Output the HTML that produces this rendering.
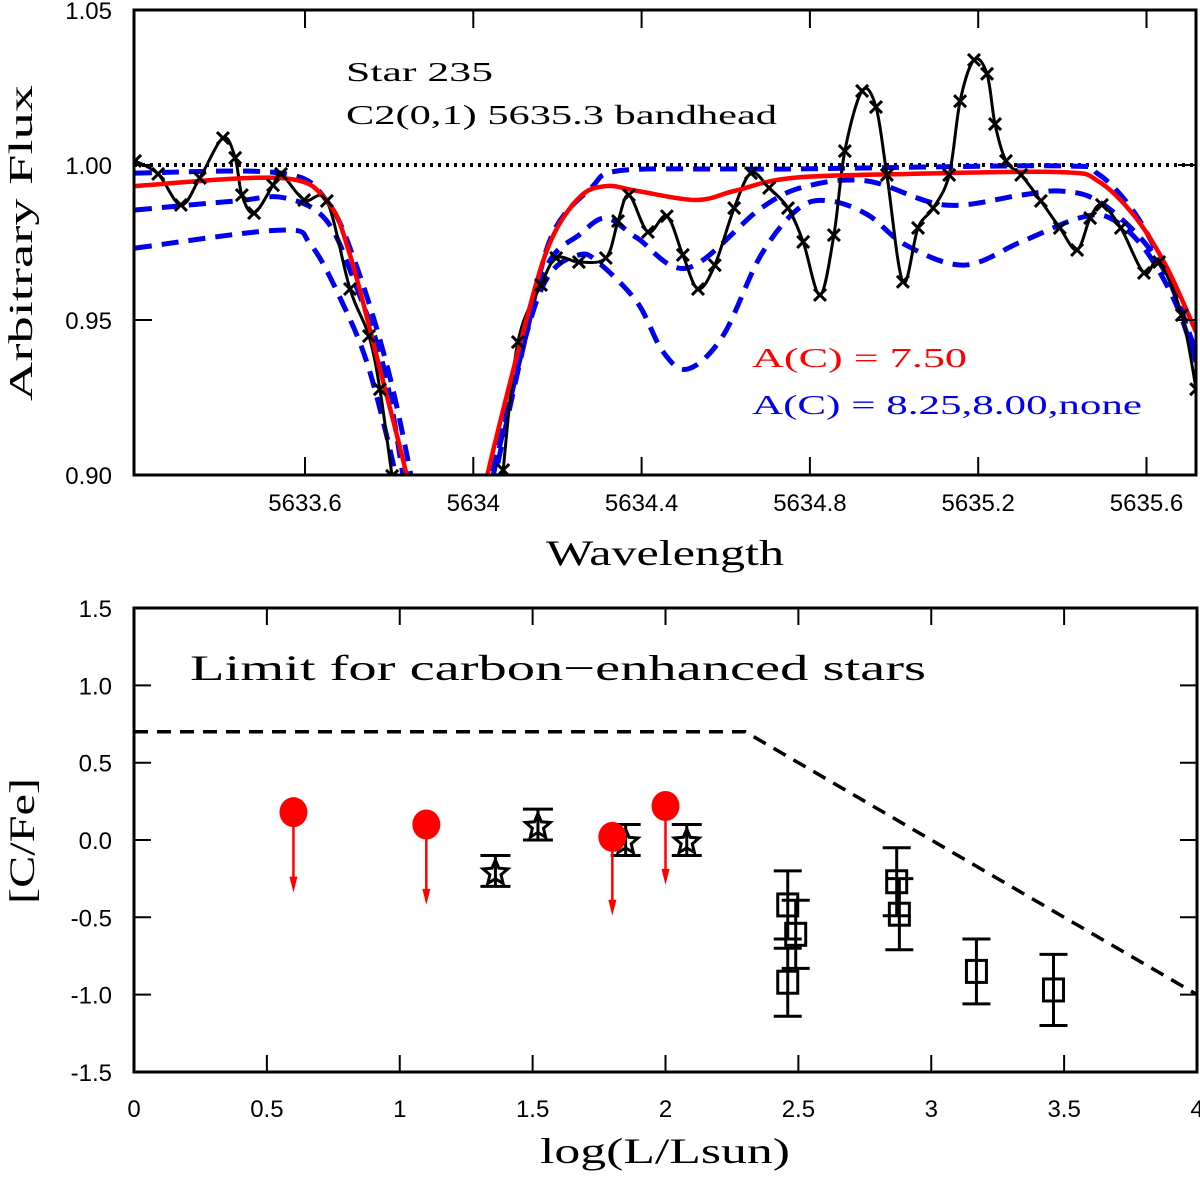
<!DOCTYPE html>
<html><head><meta charset="utf-8"><style>
html,body{margin:0;padding:0;background:#fff;}
svg{display:block;}
text{font-family:"Liberation Sans",sans-serif;}
.serif{font-family:"Liberation Serif",serif;}
</style></head><body>
<svg id="fig" width="1200" height="1181" viewBox="0 0 1200 1181" xmlns="http://www.w3.org/2000/svg">
<defs>
<clipPath id="clipTop"><rect x="134" y="10" width="1062" height="465"/></clipPath>
<clipPath id="clipBot"><rect x="134" y="608" width="1063" height="464"/></clipPath>
</defs>
<g id="topPanel"></g>
<g id="botPanel"></g>
</svg>
<script>
// ---------- Top panel data ----------
const topXTicks = [5633.6, 5634.0, 5634.4, 5634.8, 5635.2, 5635.6];
const topXTickLabels = ["5633.6", "5634", "5634.4", "5634.8", "5635.2", "5635.6"];
const topYTicks = [0.90, 0.95, 1.00, 1.05];
const topYTickLabels = ["0.90", "0.95", "1.00", "1.05"];
const obsWl = [5633.196,5633.251,5633.305,5633.350,5633.405,5633.434,5633.450,5633.479,5633.524,5633.543,5633.598,5633.652,5633.707,5633.752,5633.778,5633.807,5633.83,5634.06,5634.071,5634.106,5634.161,5634.197,5634.251,5634.315,5634.344,5634.370,5634.415,5634.460,5634.498,5634.534,5634.574,5634.620,5634.660,5634.703,5634.748,5634.784,5634.824,5634.857,5634.883,5634.924,5634.957,5634.983,5635.021,5635.057,5635.093,5635.131,5635.157,5635.190,5635.221,5635.240,5635.266,5635.302,5635.349,5635.394,5635.435,5635.466,5635.494,5635.539,5635.594,5635.630,5635.684,5635.718];
const obsFlux = [1.0013,0.9971,0.9871,0.9958,1.0087,1.0023,0.9903,0.9845,0.9935,0.9971,0.9887,0.9884,0.9600,0.9448,0.9277,0.8997,0.88,0.88,0.9016,0.9429,0.9613,0.9700,0.9687,0.9700,0.9819,0.9903,0.9784,0.9835,0.9710,0.9600,0.9677,0.9861,0.9974,0.9926,0.9861,0.9752,0.9581,0.9774,1.0045,1.0239,1.0187,0.9968,0.9623,0.9797,0.9861,0.9968,1.0206,1.0339,1.0294,1.0132,1.0013,0.9968,0.9884,0.9797,0.9726,0.9829,0.9871,0.9797,0.9652,0.9687,0.9516,0.9277];
const redWl = [5633.196,5633.543,5633.652,5633.707,5633.778,5633.842,5633.85,5634.025,5634.033,5634.116,5634.180,5634.251,5634.315,5634.391,5634.529,5634.620,5634.757,5635.031,5635.394,5635.485,5635.575,5635.649,5635.718];
const redFlux = [0.9932,0.9958,0.9884,0.9710,0.9342,0.8997,0.89,0.89,0.8997,0.9448,0.9742,0.9894,0.9932,0.9916,0.9887,0.9916,0.9958,0.9971,0.9977,0.9948,0.9829,0.9668,0.9461];
const blueNoneWl = [5633.196,5633.543,5633.652,5633.724,5633.797,5633.852,5633.86,5634.04,5634.052,5634.125,5634.187,5634.280,5634.344,5634.586,5634.757,5635.394,5635.485,5635.575,5635.649,5635.718];
const blueNoneFlux = [0.9974,0.9974,0.9884,0.9668,0.9342,0.8997,0.89,0.89,0.8997,0.9448,0.9774,0.9926,0.9981,0.9987,0.9987,0.9997,0.9971,0.9839,0.9645,0.9397];
const blue800Wl = [5633.196,5633.434,5633.552,5633.652,5633.724,5633.788,5633.833,5633.84,5634.03,5634.042,5634.116,5634.180,5634.251,5634.315,5634.389,5634.510,5634.684,5634.793,5634.938,5635.121,5635.302,5635.394,5635.485,5635.594,5635.668,5635.718];
const blue800Flux = [0.9855,0.9884,0.9894,0.9819,0.9600,0.9342,0.8997,0.89,0.89,0.8997,0.9448,0.9687,0.9774,0.9829,0.9765,0.9668,0.9861,0.9932,0.9948,0.9871,0.9903,0.9916,0.9884,0.9752,0.9590,0.9365];
const blue825Wl = [5633.196,5633.543,5633.614,5633.688,5633.752,5633.816,5633.82,5634.035,5634.047,5634.125,5634.180,5634.251,5634.296,5634.389,5634.451,5634.510,5634.593,5634.684,5634.774,5634.848,5634.938,5635.028,5635.166,5635.302,5635.440,5635.513,5635.594,5635.668,5635.718];
const blue825Flux = [0.9732,0.9790,0.9742,0.9558,0.9342,0.8997,0.89,0.89,0.8997,0.9448,0.9645,0.9710,0.9687,0.9558,0.9397,0.9342,0.9448,0.9710,0.9861,0.9884,0.9839,0.9742,0.9677,0.9752,0.9829,0.9829,0.9732,0.9558,0.9365];

// ---------- Bottom panel data ----------
const botXTicks = [0,0.5,1,1.5,2,2.5,3,3.5,4];
const botXTickLabels = ["0","0.5","1","1.5","2","2.5","3","3.5","4"];
const botYTicks = [1.5,1.0,0.5,0.0,-0.5,-1.0,-1.5];
const botYTickLabels = ["1.5","1.0","0.5","0.0","-0.5","-1.0","-1.5"];
const limitX = [0, 2.3, 4];
const limitY = [0.70, 0.70, -1.0];
const ulX = [0.6, 1.1, 1.8, 2.0];
const ulY = [0.18, 0.10, 0.02, 0.22];
const ulTo = [-0.34, -0.42, -0.49, -0.29];
const starX = [1.36, 1.52, 1.85, 2.08];
const starY = [-0.20, 0.10, 0.00, 0.00];
const starErr = [0.10, 0.10, 0.10, 0.10];
const sqX = [2.46, 2.49, 2.46, 2.87, 2.88, 3.17, 3.46];
const sqY = [-0.42, -0.61, -0.92, -0.27, -0.48, -0.85, -0.97];
const sqErr = [0.22, 0.22, 0.22, 0.22, 0.23, 0.21, 0.23];

const NS = "http://www.w3.org/2000/svg";
function mk(parent, tag, attrs, txt) {
  const e = document.createElementNS(NS, tag);
  for (const k in attrs) e.setAttribute(k, attrs[k]);
  if (txt !== undefined) e.textContent = txt;
  parent.appendChild(e);
  return e;
}
function smoothPath(pts) {
  let d = "M" + pts[0][0].toFixed(1) + "," + pts[0][1].toFixed(1);
  for (let i = 0; i < pts.length - 1; i++) {
    const p0 = pts[i - 1] || pts[i], p1 = pts[i], p2 = pts[i + 1], p3 = pts[i + 2] || p2;
    const c1x = p1[0] + (p2[0] - p0[0]) / 6, c1y = p1[1] + (p2[1] - p0[1]) / 6;
    const c2x = p2[0] - (p3[0] - p1[0]) / 6, c2y = p2[1] - (p3[1] - p1[1]) / 6;
    d += "C" + c1x.toFixed(1) + "," + c1y.toFixed(1) + " " + c2x.toFixed(1) + "," + c2y.toFixed(1) + " " + p2[0].toFixed(1) + "," + p2[1].toFixed(1);
  }
  return d;
}

// ---------- Top panel ----------
const T = { l: 134, r: 1196, t: 10, b: 475 };
const tx = w => 305 + (w - 5633.6) * 420.75;
const ty = f => 10 + (1.05 - f) * 3100;
const topG = document.getElementById("topPanel");
const topPlot = mk(topG, "g", { "clip-path": "url(#clipTop)" });



const cont = mk(topPlot, "line", { x1: T.l, x2: T.r, y1: ty(1.0), y2: ty(1.0), stroke: "#000", "stroke-width": 4, "stroke-dasharray": "3,5" });



function drawSeries(wl, fl, color, width, dash, name) {
  const pts = wl.map((w, i) => [tx(w), ty(fl[i])]);
  const attrs = { d: smoothPath(pts), fill: "none", stroke: color, "stroke-width": width, "stroke-linejoin": "round" };
  if (dash) attrs["stroke-dasharray"] = dash;
  const p = mk(topPlot, "path", attrs);
  
  
  return pts;
}
drawSeries(blue825Wl, blue825Flux, "#0000ee", 5, "17,10", "synthetic-ac-8.25");
drawSeries(blue800Wl, blue800Flux, "#0000ee", 5, "17,10", "synthetic-ac-8.00");
drawSeries(blueNoneWl, blueNoneFlux, "#0000ee", 5, "17,10", "synthetic-no-carbon");
const obsPts = drawSeries(obsWl, obsFlux, "#000", 3, null, "observed-spectrum");
drawSeries(redWl, redFlux, "#ff0000", 4.5, null, "synthetic-ac-7.50");
const mg = mk(topPlot, "g", {});


obsPts.forEach(p => {
  const s = 6;
  const m = mk(mg, "path", { d: `M${p[0]-s},${p[1]-s}L${p[0]+s},${p[1]+s}M${p[0]-s},${p[1]+s}L${p[0]+s},${p[1]-s}`, stroke: "#000", "stroke-width": 3 });
  
  
});

const tframe = mk(topG, "rect", { x: T.l, y: T.t, width: T.r - T.l, height: T.b - T.t, fill: "none", stroke: "#000", "stroke-width": 3 });


topXTicks.forEach((v, i) => {
  const x = tx(v);
  const tk = mk(topG, "path", { d: `M${x},${T.t}v18M${x},${T.b}v-18`, stroke: "#000", "stroke-width": 2 });
  
  
  const lb = mk(topG, "text", { x: x, y: 511, "text-anchor": "middle", "font-size": 24 }, topXTickLabels[i]);
  
  
});
topYTicks.forEach((v, i) => {
  const y = ty(v);
  const tk = mk(topG, "path", { d: `M${T.l},${y}h18M${T.r},${y}h-18`, stroke: "#000", "stroke-width": 2 });
  
  
  const lb = mk(topG, "text", { x: 112, y: y + 9, "text-anchor": "end", "font-size": 24 }, topYTickLabels[i]);
  
  
});
let el;
el = mk(topG, "text", { x: 665, y: 565, "text-anchor": "middle", "font-size": 36, class: "serif", textLength: 238, lengthAdjust: "spacingAndGlyphs" }, "Wavelength");


el = mk(topG, "text", { x: 0, y: 0, "text-anchor": "middle", "font-size": 34, class: "serif", textLength: 316, lengthAdjust: "spacingAndGlyphs", transform: "translate(32,243) rotate(-90)" }, "Arbitrary Flux");


el = mk(topG, "text", { x: 346, y: 81, "font-size": 27, class: "serif", textLength: 147, lengthAdjust: "spacingAndGlyphs" }, "Star 235");


el = mk(topG, "text", { x: 346, y: 124, "font-size": 27, class: "serif", textLength: 431, lengthAdjust: "spacingAndGlyphs" }, "C2(0,1) 5635.3 bandhead");


el = mk(topG, "text", { x: 752, y: 367, "font-size": 27, fill: "#ff0000", class: "serif", textLength: 215, lengthAdjust: "spacingAndGlyphs" }, "A(C) = 7.50");


el = mk(topG, "text", { x: 752, y: 414, "font-size": 27, fill: "#0000ee", class: "serif", textLength: 390, lengthAdjust: "spacingAndGlyphs" }, "A(C) = 8.25,8.00,none");



// ---------- Bottom panel ----------
const B = { l: 134, r: 1197, t: 608, b: 1072 };
const bx = v => 134 + v * 265.75;
const by = v => 840 - v * 154.6;
const botG = document.getElementById("botPanel");
const botPlot = mk(botG, "g", { "clip-path": "url(#clipBot)" });



el = mk(botPlot, "polyline", { points: limitX.map((v, i) => bx(v) + "," + by(limitY[i])).join(" "), fill: "none", stroke: "#000", "stroke-width": 3.5, "stroke-dasharray": "14,9" });



function starPath(cx, cy, R) {
  let d = "";
  for (let k = 0; k < 10; k++) {
    const r = k % 2 ? R * 0.45 : R;
    const a = -Math.PI / 2 + k * Math.PI / 5;
    d += (k ? "L" : "M") + (cx + r * Math.cos(a)).toFixed(1) + "," + (cy + r * Math.sin(a)).toFixed(1);
  }
  return d + "Z";
}
function errBar(x, y, e, cap) {
  const y1 = by(y + e), y2 = by(y - e);
  const g = mk(botPlot, "path", { d: `M${x},${y1}V${y2}M${x-cap},${y1}h${2*cap}M${x-cap},${y2}h${2*cap}`, stroke: "#000", "stroke-width": 3, fill: "none" });
  
  
}
sqX.forEach((v, i) => {
  const x = bx(v), y = by(sqY[i]);
  errBar(x, sqY[i], sqErr[i], 14);
  const s = mk(botPlot, "rect", { x: x - 10, y: y - 11, width: 20, height: 22, fill: "none", stroke: "#000", "stroke-width": 3 });
  
  
});
starX.forEach((v, i) => {
  const x = bx(v), y = by(starY[i]);
  errBar(x, starY[i], starErr[i], 15);
  const s = mk(botPlot, "path", { d: starPath(x, y + 2, 13), fill: "none", stroke: "#000", "stroke-width": 3 });
  
  
});
ulX.forEach((v, i) => {
  const x = bx(v), y = by(ulY[i]), y2 = by(ulTo[i]);
  const a = mk(botPlot, "path", { d: `M${x},${y}V${y2-14}`, stroke: "#ff0000", "stroke-width": 2.5 });
  
  
  const h = mk(botPlot, "path", { d: `M${x-4},${y2-16}L${x},${y2}L${x+4},${y2-16}Z`, fill: "#ff0000" });
  
  
  const c = mk(botPlot, "ellipse", { cx: x, cy: y, rx: 14, ry: 15, fill: "#ff0000" });
  
  
});

el = mk(botG, "rect", { x: B.l, y: B.t, width: B.r - B.l, height: B.b - B.t, fill: "none", stroke: "#000", "stroke-width": 3 });


botXTicks.forEach((v, i) => {
  const x = bx(v);
  const tk = mk(botG, "path", { d: `M${x},${B.t}v17M${x},${B.b}v-17`, stroke: "#000", "stroke-width": 2 });
  
  
  const lb = mk(botG, "text", { x: x, y: 1117, "text-anchor": "middle", "font-size": 24 }, botXTickLabels[i]);
  
  
});
botYTicks.forEach((v, i) => {
  const y = by(v);
  const tk = mk(botG, "path", { d: `M${B.l},${y}h17M${B.r},${y}h-17`, stroke: "#000", "stroke-width": 2 });
  
  
  const lb = mk(botG, "text", { x: 112, y: y + 9, "text-anchor": "end", "font-size": 24 }, botYTickLabels[i]);
  
  
});
el = mk(botG, "text", { x: 665, y: 1163, "text-anchor": "middle", "font-size": 36, class: "serif", textLength: 250, lengthAdjust: "spacingAndGlyphs" }, "log(L/Lsun)");


el = mk(botG, "text", { x: 0, y: 0, "text-anchor": "middle", "font-size": 36, class: "serif", textLength: 126, lengthAdjust: "spacingAndGlyphs", transform: "translate(34,841) rotate(-90)" }, "[C/Fe]");


el = mk(botG, "text", { x: 190, y: 680, "font-size": 36, class: "serif", textLength: 736, lengthAdjust: "spacingAndGlyphs" }, "Limit for carbon\u2212enhanced stars");


</script>
</body></html>
